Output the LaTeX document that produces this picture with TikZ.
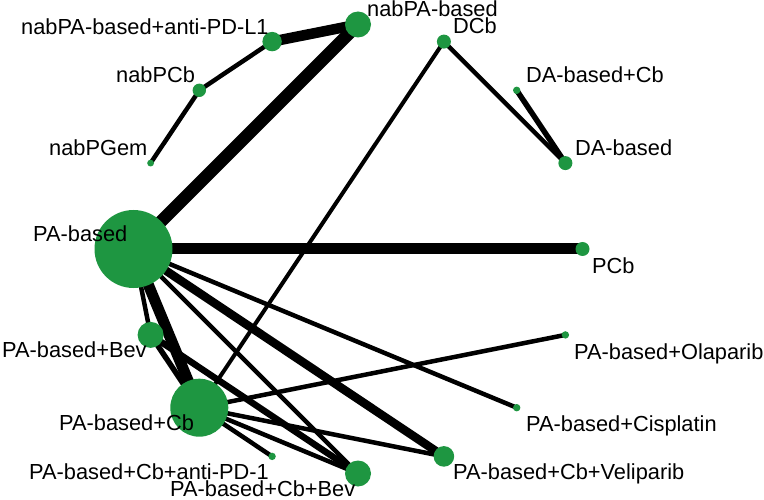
\documentclass[tikz,border=0pt]{standalone}
\usepackage{fontspec}
\setmainfont{Liberation Sans}
\usetikzlibrary{backgrounds}
\definecolor{nodegreen}{RGB}{30,150,65}
\tikzset{
  trt/.style={circle, fill=nodegreen, inner sep=0pt, minimum size=#1},
  lab/.style={anchor=base west, inner sep=0pt, font=\fontsize{21.8}{22}\selectfont},
  edg/.style={line width=#1, draw=black, line cap=butt},
}
\begin{document}
\begin{tikzpicture}[x=1pt,y=-1pt]
\useasboundingbox (0,0) rectangle (764,500);
% treatment nodes
\node[trt=26pt] (nabPA)   at (358,24.5) {};
\node[trt=14pt] (DCb)     at (443.9,41.6) {};
\node[trt=7.4pt] (DACb)   at (516.7,90.3) {};
\node[trt=14pt] (DA)      at (565.4,163.1) {};
\node[trt=14pt] (PCb)     at (582.5,249) {};
\node[trt=7.4pt] (PAOla)  at (565.4,334.9) {};
\node[trt=7.4pt] (PACis)  at (516.7,407.7) {};
\node[trt=20.6pt] (PACbVel) at (443.9,456.4) {};
\node[trt=26pt] (PACbBev) at (358,473.5) {};
\node[trt=7.4pt] (PACbPD) at (272.1,456.4) {};
\node[trt=58pt] (PACb)    at (199.3,407.7) {};
\node[trt=26pt] (PABev)   at (150.6,334.9) {};
\node[trt=78pt] (PA)      at (133.5,249) {};
\node[trt=6.8pt] (nabPGem) at (150.6,163.1) {};
\node[trt=13.4pt] (nabPCb) at (199.3,90.3) {};
\node[trt=19.4pt] (nabPAPD) at (272.1,41.6) {};
% connectors
\begin{scope}[on background layer]
\draw[edg=10.5pt] (nabPA.center) -- (nabPAPD.center);
\draw[edg=4.5pt] (nabPAPD.center) -- (nabPCb.center);
\draw[edg=4.5pt] (nabPCb.center) -- (nabPGem.center);
\draw[edg=12.5pt] (nabPA.center) -- (PA.center);
\draw[edg=4.5pt] (DCb.center) -- (DA.center);
\draw[edg=5.5pt] (DACb.center) -- (DA.center);
\draw[edg=4pt] (DCb.center) -- (PACb.center);
\draw[edg=11pt] (PA.center) -- (PCb.center);
\draw[edg=4.5pt] (PACb.center) -- (PAOla.center);
\draw[edg=4.5pt] (PA.center) -- (PACis.center);
\draw[edg=8.5pt] (PA.center) -- (PACbVel.center);
\draw[edg=4.5pt] (PACb.center) -- (PACbVel.center);
\draw[edg=4.5pt] (PA.center) -- (PACbBev.center);
\draw[edg=6.5pt] (PABev.center) -- (PACbBev.center);
\draw[edg=4.5pt] (PACb.center) -- (PACbBev.center);
\draw[edg=4.5pt] (PA.center) -- (PABev.center);
\draw[edg=11pt] (PA.center) -- (PACb.center);
\draw[edg=5.5pt] (PABev.center) -- (PACb.center);
\draw[edg=4.5pt] (PACb.center) -- (PACbPD.center);
\end{scope}
% labels
\node[lab] (LnabPAPD) at (21,35) {nabPA-based+anti-PD-L1};
\node[lab] (LnabPA) at (367,17) {nabPA-based};
\node[lab] (LDCb) at (453,34) {DCb};
\node[lab] (LnabPCb) at (116,83) {nabPCb};
\node[lab] (LnabPGem) at (49,156) {nabPGem};
\node[lab] (LDACb) at (526,83) {DA-based+Cb};
\node[lab] (LDA) at (575,156) {DA-based};
\node[lab] (LPA) at (33,242) {PA-based};
\node[lab] (LPCb) at (592,273) {PCb};
\node[lab] (LPABev) at (2,357) {PA-based+Bev};
\node[lab] (LPACb) at (59,430) {PA-based+Cb};
\node[lab] (LPACbPD) at (29,479) {PA-based+Cb+anti-PD-1};
\node[lab] (LPACbBev) at (170,496) {PA-based+Cb+Bev};
\node[lab] (LPAOla) at (574,359) {PA-based+Olaparib};
\node[lab] (LPACis) at (526,431) {PA-based+Cisplatin};
\node[lab] (LPACbVel) at (453,479) {PA-based+Cb+Veliparib};
\end{tikzpicture}
\end{document}
